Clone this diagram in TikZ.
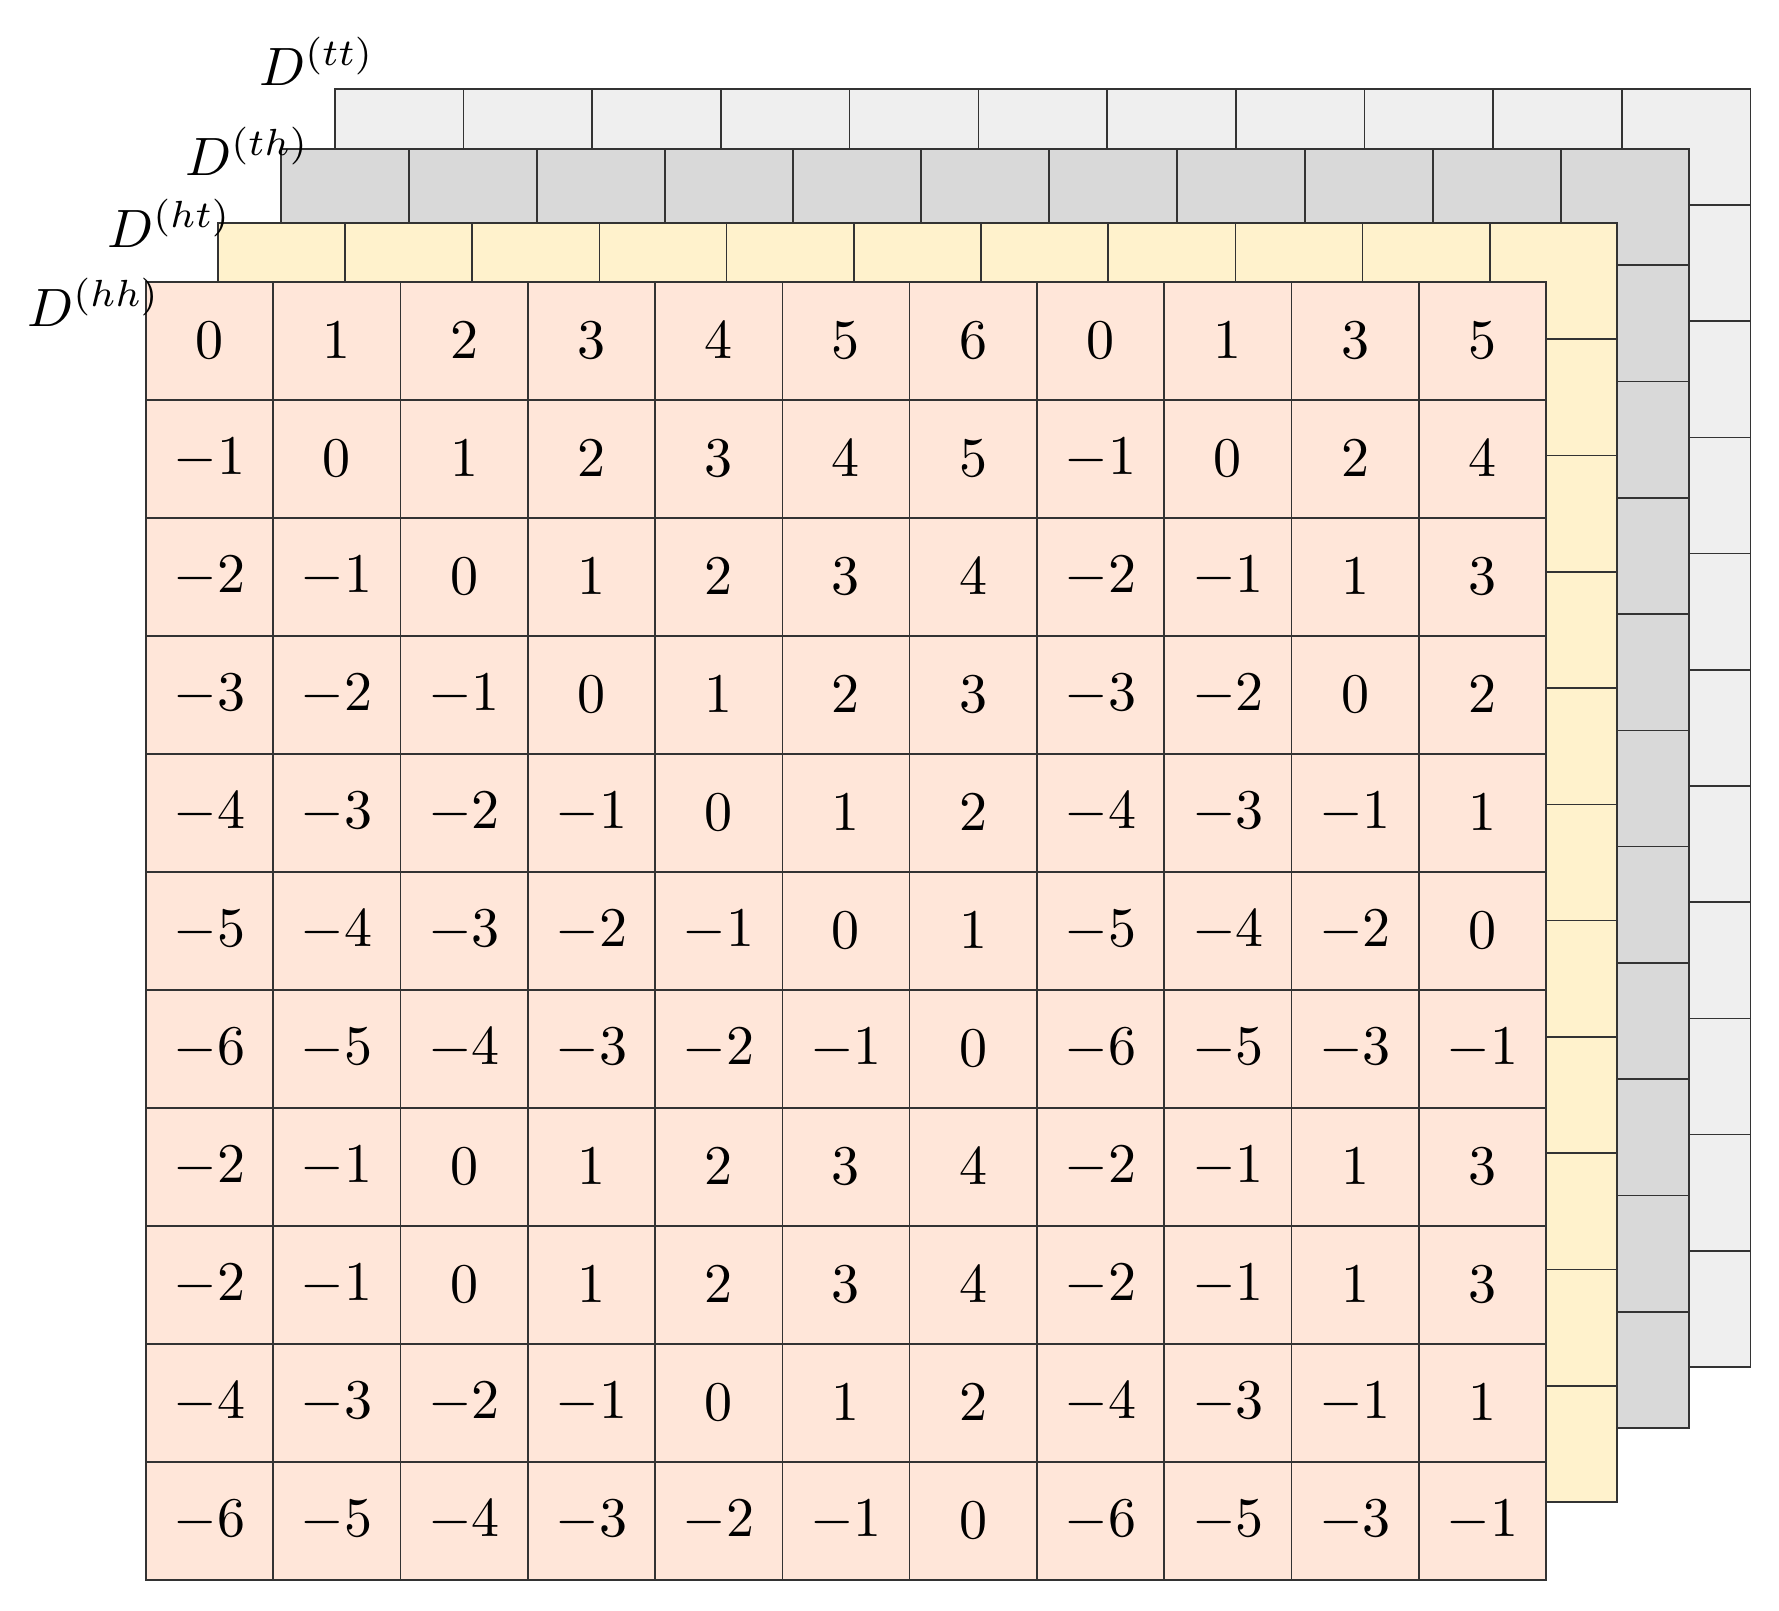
\documentclass[tikz,border=0pt]{standalone}
\usepackage{tikz}
\definecolor{hhc}{HTML}{FFE6D9}
\definecolor{htc}{HTML}{FFF2CC}
\definecolor{thc}{HTML}{D9D9D9}
\definecolor{ttc}{HTML}{EFEFEF}
\tikzset{cellbox/.style={draw=black!80,line width=1.6pt,inner sep=0pt,anchor=north west},
 numtxt/.style={scale=5.6,transform shape},
 labtxt/.style={anchor=base west,inner sep=0pt,scale=5.4,transform shape}}
\begin{document}
\begin{tikzpicture}[x=1pt,y=-1pt]
\useasboundingbox (0,0) rectangle (1779,1610);
\foreach \c in {0,...,10}{\foreach \r in {0,...,10}{
 \node[cellbox,fill=ttc,minimum width=128.7pt,minimum height=116.2pt] (tt\r-\c) at ({334+\c*128.7},{88+\r*116.2}) {};}}
\foreach \c in {0,...,10}{\foreach \r in {0,...,10}{
 \node[cellbox,fill=thc,minimum width=128pt,minimum height=116.3pt] (th\r-\c) at ({280+\c*128},{148+\r*116.3}) {};}}
\foreach \c in {0,...,10}{\foreach \r in {0,...,10}{
 \node[cellbox,fill=htc,minimum width=127.2pt,minimum height=116.3pt] (ht\r-\c) at ({217+\c*127.2},{222+\r*116.3}) {};}}
\foreach \r in {0,...,10}{\foreach \c in {0,...,10}{
 \node[cellbox,fill=hhc,minimum width=127.3pt,minimum height=118pt] (hh\r-\c) at ({145+\c*127.3},{281+\r*118}) {};}}
\foreach [count=\r from 0] \line in {{0,1,2,3,4,5,6,0,1,3,5},{-1,0,1,2,3,4,5,-1,0,2,4},{-2,-1,0,1,2,3,4,-2,-1,1,3},{-3,-2,-1,0,1,2,3,-3,-2,0,2},{-4,-3,-2,-1,0,1,2,-4,-3,-1,1},{-5,-4,-3,-2,-1,0,1,-5,-4,-2,0},{-6,-5,-4,-3,-2,-1,0,-6,-5,-3,-1},{-2,-1,0,1,2,3,4,-2,-1,1,3},{-2,-1,0,1,2,3,4,-2,-1,1,3},{-4,-3,-2,-1,0,1,2,-4,-3,-1,1},{-6,-5,-4,-3,-2,-1,0,-6,-5,-3,-1}}{
 \foreach [count=\c from 0] \v in \line {
  \node[numtxt] (n\r-\c) at (hh\r-\c.center) {$\v$};}}
\node[labtxt] (ltt) at (258,85) {$D^{(tt)}$};
\node[labtxt] (lth) at (184,175) {$D^{(th)}$};
\node[labtxt] (lht) at (106,247) {$D^{(ht)}$};
\node[labtxt] (lhh) at (26,326) {$D^{(hh)}$};
\end{tikzpicture}
\end{document}
